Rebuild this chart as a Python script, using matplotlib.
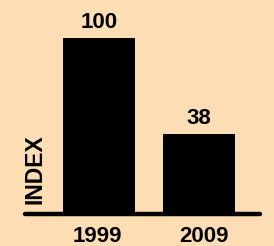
import matplotlib.pyplot as plt

# chart data
years = ["1999", "2009"]
index_labels = ["100", "38"]
bar_heights = [100, 45.5]  # drawn heights as they appear in the picture

bg = "#FDDDB3"
plt.rcParams["font.family"] = ["Liberation Sans", "DejaVu Sans"]

fig = plt.figure(figsize=(2.74, 2.46), dpi=100, facecolor=bg)
ax = fig.add_axes([0, 0, 1, 1])
ax.set_facecolor(bg)

pos = list(range(len(years)))
bars = ax.bar(pos, bar_heights, width=0.72, color="black", zorder=2)

# baseline with rounded ends
ax.plot([-0.74, 1.61], [0, 0], color="black", lw=3.2, solid_capstyle="round", zorder=3)

for bar, lab in zip(bars, index_labels):
    ax.annotate(lab, (bar.get_x() + bar.get_width() / 2, bar.get_height()),
                xytext=(0, 7.5), textcoords="offset points",
                ha="center", va="baseline", fontsize=16, fontweight="bold")

for x, yr, dx in zip(pos, years, [-1.5, 3.5]):
    ax.annotate(yr, (x, 0), xytext=(dx, -20), textcoords="offset points",
                ha="center", va="baseline", fontsize=16, fontweight="bold")

ax.text(-0.64, 5.7, "INDEX", rotation=90, ha="center", va="bottom",
        fontsize=16.5, fontweight="heavy")

ax.set_xlim(-0.99, 1.75)
ax.set_ylim(-18.18, 121.59)
ax.axis("off")

fig.savefig("out.png", dpi=100, facecolor=bg)
